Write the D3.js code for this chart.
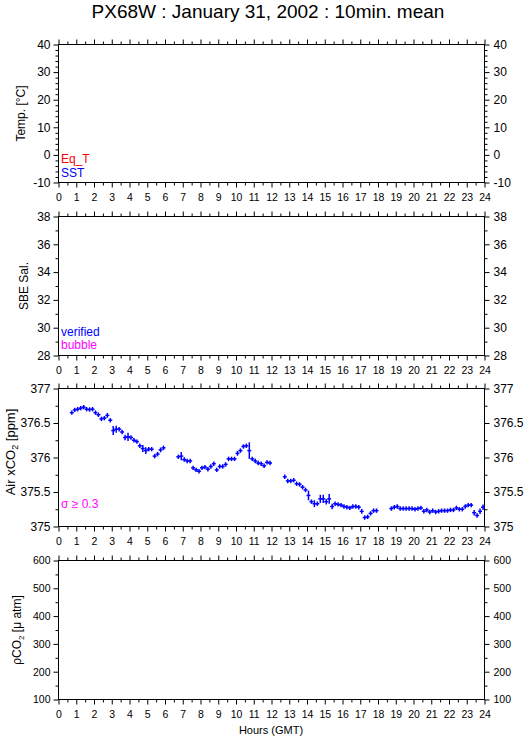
<!DOCTYPE html>
<html><head><meta charset="utf-8">
<script src="https://cdn.jsdelivr.net/npm/d3@7"></script>
<style>
body{margin:0;background:#fff}
svg{display:block}
text{font-family:"Liberation Sans",Arial,Helvetica,sans-serif}
</style>
</head><body>
<svg id="c" width="529" height="739"></svg>
<script>
// ---------- data ----------
const titleText = "PX68W : January 31, 2002 : 10min. mean";
const hourTicks = [0,1,2,3,4,5,6,7,8,9,10,11,12,13,14,15,16,17,18,19,20,21,22,23,24];
const tempTicks = [-10,0,10,20,30,40];
const salTicks = [28,30,32,34,36,38];
const co2Ticks = [375,375.5,376,376.5,377];
const pco2Ticks = [100,200,300,400,500,600];

// Air xCO2 10-minute means (hour of centre, ppm, std dev)
const co2Hours = [
 0.75,0.917,1.083,1.25,1.417,1.583,1.75,1.917,2.083,2.25,2.417,2.583,2.75,2.917,3.083,3.25,
 3.417,3.583,3.75,3.917,4.083,4.25,4.417,4.583,4.75,4.917,5.083,5.25,5.417,5.583,5.75,5.917,
 6.75,6.917,7.083,7.25,7.417,7.583,7.75,7.917,8.083,8.25,8.417,8.583,8.75,8.917,9.083,9.25,
 9.417,9.583,9.75,9.917,10.083,10.25,10.417,10.583,10.75,10.917,11.083,11.25,11.417,11.583,11.75,11.917,
 12.75,12.917,13.083,13.25,13.417,13.583,13.75,13.917,14.083,14.25,14.417,14.583,14.75,14.917,15.083,15.25,
 15.417,15.583,15.75,15.917,16.083,16.25,16.417,16.583,16.75,16.917,17.083,17.25,17.417,17.583,17.75,17.917,
 18.75,18.917,19.083,19.25,19.417,19.583,19.75,19.917,20.083,20.25,20.417,20.583,20.75,20.917,21.083,21.25,
 21.417,21.583,21.75,21.917,22.083,22.25,22.417,22.583,22.75,22.917,23.083,23.25,23.417,23.583,23.75,23.917
];
const co2Values = [
 376.65,376.69,376.70,376.715,376.73,376.70,376.695,376.70,376.65,376.62,376.56,376.57,376.61,376.54,376.39,376.41,
 376.41,376.37,376.29,376.30,376.29,376.25,376.23,376.17,376.13,376.10,376.12,376.12,376.02,376.05,376.11,376.14,
 376.01,376.02,375.97,375.95,375.95,375.85,375.82,375.80,375.85,375.86,375.83,375.87,375.91,375.82,375.87,375.87,
 375.90,375.98,375.98,375.98,376.06,376.10,376.16,376.17,376.10,375.98,375.95,375.92,375.91,375.88,375.93,375.92,
 375.72,375.66,375.66,375.67,375.62,375.61,375.57,375.53,375.45,375.36,375.33,375.33,375.40,375.40,375.36,375.40,
 375.29,375.33,375.32,375.31,375.29,375.28,375.27,375.29,375.29,375.28,375.22,375.13,375.14,375.19,375.23,375.23,
 375.26,375.28,375.29,375.26,375.26,375.26,375.26,375.26,375.25,375.26,375.27,375.22,375.24,375.21,375.23,375.21,
 375.22,375.23,375.23,375.23,375.24,375.24,375.27,375.25,375.25,375.29,375.31,375.31,375.20,375.16,375.22,375.28
];
const co2Sd = [
 0.03,0.025,0.025,0.025,0.025,0.025,0.025,0.025,0.03,0.03,0.025,0.025,0.035,0.025,0.065,0.05,
 0.03,0.03,0.04,0.06,0.03,0.025,0.03,0.03,0.05,0.05,0.03,0.03,0.025,0.03,0.035,0.03,
 0.025,0.06,0.03,0.03,0.03,0.025,0.025,0.03,0.03,0.03,0.025,0.03,0.03,0.03,0.03,0.03,
 0.025,0.03,0.03,0.03,0.035,0.03,0.03,0.03,0.12,0.03,0.025,0.025,0.025,0.03,0.025,0.025,
 0.02,0.03,0.03,0.03,0.025,0.025,0.025,0.03,0.07,0.03,0.05,0.03,0.06,0.06,0.04,0.07,
 0.04,0.03,0.025,0.03,0.025,0.025,0.025,0.025,0.025,0.025,0.035,0.025,0.03,0.025,0.025,0.025,
 0.025,0.025,0.025,0.025,0.025,0.025,0.025,0.025,0.025,0.025,0.025,0.025,0.025,0.025,0.025,0.025,
 0.025,0.025,0.025,0.025,0.025,0.025,0.025,0.025,0.025,0.025,0.03,0.025,0.04,0.03,0.04,0.04
];

// ---------- layout ----------
const svg = d3.select("#c");
const X0 = 58.5, X1 = 484.5;
const x = d3.scaleLinear().domain([0,24]).range([X0,X1]);

svg.append("text").attr("x",268).attr("y",18).attr("text-anchor","middle")
  .style("font-size","19px").text(titleText);

const panels = [
  {top:44.5,bottom:182.5,domain:[-10,40],ticks:tempTicks,minorStep:2,labelSize:12},
  {top:216.5,bottom:355.5,domain:[28,38],ticks:salTicks,minorStep:1,labelSize:12},
  {top:388.5,bottom:526.5,domain:[375,377],ticks:co2Ticks,minorStep:0.25,labelSize:12},
  {top:560.5,bottom:699.5,domain:[100,600],ticks:pco2Ticks,minorStep:50,labelSize:10.5}
];

const halfHours = d3.range(0.5,24,1);

function styleAxis(g, size){
  g.select(".domain").remove();
  g.selectAll("line").attr("stroke","#000").attr("stroke-width",1);
  g.selectAll("text").attr("fill","#000").style("font-size",size+"px")
    .style("font-family",'"Liberation Sans",Arial,Helvetica,sans-serif');
}

panels.forEach(p => {
  p.y = d3.scaleLinear().domain(p.domain).range([p.bottom,p.top]);
  const minor = d3.range(p.domain[0], p.domain[1]+1e-9, p.minorStep)
    .filter(v => !p.ticks.some(t => Math.abs(t-v) < 1e-9));
  const g = svg.append("g");
  g.append("rect").attr("x",X0).attr("y",p.top).attr("width",X1-X0).attr("height",p.bottom-p.top)
    .attr("fill","none").attr("stroke","#000").attr("stroke-width",1);
  g.append("g").attr("transform",`translate(0,${p.top})`)
    .call(d3.axisTop(x).tickValues(hourTicks).tickSize(5).tickSizeOuter(0).tickFormat(""))
    .call(a=>styleAxis(a,10));
  g.append("g").attr("transform",`translate(0,${p.top})`)
    .call(d3.axisTop(x).tickValues(halfHours).tickSize(3).tickSizeOuter(0).tickFormat(""))
    .call(a=>styleAxis(a,10));
  g.append("g").attr("transform",`translate(0,${p.bottom})`)
    .call(d3.axisBottom(x).tickValues(hourTicks).tickSize(5).tickPadding(6).tickSizeOuter(0).tickFormat(d=>String(d)))
    .call(a=>styleAxis(a,10.5));
  g.append("g").attr("transform",`translate(0,${p.bottom})`)
    .call(d3.axisBottom(x).tickValues(halfHours).tickSize(3).tickSizeOuter(0).tickFormat(""))
    .call(a=>styleAxis(a,10));
  g.append("g").attr("transform",`translate(${X0},0)`)
    .call(d3.axisLeft(p.y).tickValues(p.ticks).tickSize(5).tickPadding(3).tickSizeOuter(0).tickFormat(d=>String(d)))
    .call(a=>styleAxis(a,p.labelSize));
  g.append("g").attr("transform",`translate(${X0},0)`)
    .call(d3.axisLeft(p.y).tickValues(minor).tickSize(3).tickSizeOuter(0).tickFormat(""))
    .call(a=>styleAxis(a,p.labelSize));
  g.append("g").attr("transform",`translate(${X1},0)`)
    .call(d3.axisRight(p.y).tickValues(p.ticks).tickSize(5).tickPadding(4).tickSizeOuter(0).tickFormat(d=>String(d)))
    .call(a=>styleAxis(a,p.labelSize));
  g.append("g").attr("transform",`translate(${X1},0)`)
    .call(d3.axisRight(p.y).tickValues(minor).tickSize(3).tickSizeOuter(0).tickFormat(""))
    .call(a=>styleAxis(a,p.labelSize));
});

function yTitle(cx, cy, size, build){
  const t = svg.append("text").attr("transform",`translate(${cx},${cy}) rotate(-90)`)
    .attr("text-anchor","middle").style("font-size",size+"px");
  build(t);
}
yTitle(25, 113.5, 12, t => t.text("Temp. [°C]"));
yTitle(28, 286, 12, t => t.text("SBE Sal."));
yTitle(15, 452, 13, t => {
  t.append("tspan").text("Air xCO");
  t.append("tspan").attr("dy",3).style("font-size","9px").text("2");
  t.append("tspan").attr("dy",-3).text(" [ppm]");
});
yTitle(21, 630, 12, t => {
  t.append("tspan").text("ρCO");
  t.append("tspan").attr("dy",3).style("font-size","8px").text("2");
  t.append("tspan").attr("dy",-3).text(" [μ atm]");
});

svg.append("text").attr("x",271).attr("y",734).attr("text-anchor","middle")
  .style("font-size","11px").text("Hours (GMT)");

const leg = [
  {x:61,y:163,c:"#ff0000",t:"Eq_T"},
  {x:61,y:177,c:"#0000ff",t:"SST"},
  {x:61,y:336,c:"#0000ff",t:"verified"},
  {x:61,y:349,c:"#ff00ff",t:"bubble"},
  {x:61,y:508,c:"#ff00ff",t:"σ ≥ 0.3"}
];
leg.forEach(l => svg.append("text").attr("x",l.x).attr("y",l.y).attr("fill",l.c)
  .style("font-size","12px").text(l.t));

// xCO2 crosses
const yc = panels[2].y;
const pts = co2Hours.map((h,i)=>({h, v:co2Values[i], s:co2Sd[i]}));
const halfV = d => Math.max(2.2, Math.abs(yc(d.v) - yc(d.v + d.s)));
const cg = svg.append("g").attr("stroke","#0000ff").attr("stroke-width",1.5);
cg.selectAll("line.h").data(pts).join("line").attr("class","h")
  .attr("x1",d=>x(d.h-1/12)-0.5).attr("x2",d=>x(d.h+1/12)+0.5)
  .attr("y1",d=>yc(d.v)).attr("y2",d=>yc(d.v));
cg.selectAll("line.v").data(pts).join("line").attr("class","v")
  .attr("x1",d=>x(d.h)).attr("x2",d=>x(d.h))
  .attr("y1",d=>yc(d.v)-halfV(d)).attr("y2",d=>yc(d.v)+halfV(d));
</script>
</body></html>
